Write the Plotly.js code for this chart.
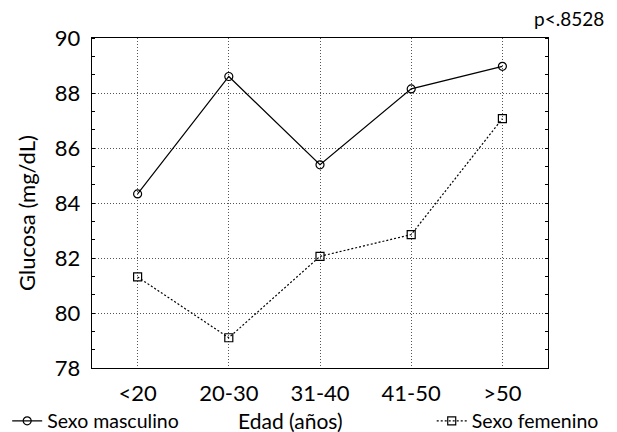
<!DOCTYPE html>
<html>
<head>
<meta charset="utf-8">
<script src="https://cdn.plot.ly/plotly-3.0.1.min.js"></script>
<style>html,body{margin:0;padding:0;background:#fff}#chart{width:617px;height:432px}</style>
</head>
<body>
<div id="chart"></div>
<script>
const categories = ["<20", "20-30", "31-40", "41-50", ">50"];
const masculino = [84.33, 88.60, 85.39, 88.15, 88.97];
const femenino = [81.31, 79.10, 82.06, 82.85, 87.07];
const yTicks = [78, 80, 82, 84, 86, 88, 90];

const FONT = "Lato, 'Open Sans', sans-serif";
const idx = categories.map((c, i) => i);

const traces = [
  {
    x: idx, y: masculino, name: "Sexo masculino", type: "scatter", mode: "lines+markers",
    line: {color: "#000", width: 1.2},
    marker: {symbol: "circle-open", size: 8, color: "#000", line: {width: 1.2}},
    legend: "legend"
  },
  {
    x: idx, y: femenino, name: "Sexo femenino", type: "scatter", mode: "lines+markers",
    line: {color: "#000", width: 1.2, dash: "2px,2px"},
    marker: {symbol: "square-open", size: 8, color: "#000", line: {width: 1.2}},
    legend: "legend2"
  }
];

const layout = {
  width: 617, height: 432,
  margin: {l: 92, r: 69, t: 38, b: 64, autoexpand: false},
  paper_bgcolor: "#fff", plot_bgcolor: "#fff",
  font: {family: FONT, color: "#000"},
  showlegend: true,
  xaxis: {
    range: [-0.5, 4.5],
    tickvals: idx, ticktext: categories,
    tickfont: {size: 22, family: FONT},
    ticklabelstandoff: 5,
    showgrid: true, gridcolor: "#555", griddash: "1px,2px", gridwidth: 1,
    showline: true, linecolor: "#000", linewidth: 1.3, mirror: true,
    ticks: "", zeroline: false, automargin: false
  },
  yaxis: {
    range: [78, 90],
    tickvals: yTicks,
    tickfont: {size: 22, family: FONT},
    ticklabelstandoff: 6,
    showgrid: true, gridcolor: "#555", griddash: "1px,2px", gridwidth: 1,
    showline: true, linecolor: "#000", linewidth: 1.3, mirror: "ticks",
    ticks: "", zeroline: false, automargin: false,
    minor: {dtick: 2/3, tick0: 78, ticks: "inside", ticklen: 3, tickcolor: "#000", showgrid: false}
  },
  legend: {
    x: -0.186, y: -0.102, xanchor: "left", yanchor: "top",
    orientation: "h", font: {size: 19.5, family: FONT},
    itemwidth: 30, bgcolor: "rgba(0,0,0,0)"
  },
  legend2: {
    x: 0.745, y: -0.102, xanchor: "left", yanchor: "top",
    orientation: "h", font: {size: 19.5, family: FONT},
    itemwidth: 30, bgcolor: "rgba(0,0,0,0)"
  },
  annotations: [
    {text: "Glucosa (mg/dL)", xref: "paper", yref: "paper", x: -0.1425, y: 0.47,
     xanchor: "center", yanchor: "middle", textangle: -90, showarrow: false, font: {size: 22, family: FONT}},
    {text: "Edad (años)", xref: "paper", yref: "paper", x: 0.436, y: -0.158,
     xanchor: "center", yanchor: "middle", showarrow: false, font: {size: 21, family: FONT}},
    {text: "p<.8528", xref: "paper", yref: "paper", x: 1.127, y: 1.06,
     xanchor: "right", yanchor: "middle", showarrow: false, font: {size: 19, family: FONT}}
  ]
};

Plotly.newPlot("chart", traces, layout, {displayModeBar: false, staticPlot: true});
</script>
</body>
</html>
